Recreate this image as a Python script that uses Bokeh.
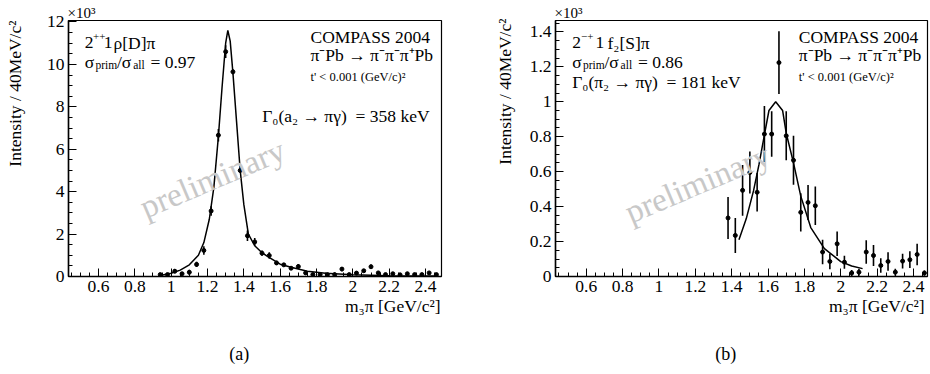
import math
from bokeh.plotting import figure
from bokeh.models import Label, FixedTicker, Range1d, Title, LinearAxis
from bokeh.layouts import row
from bokeh.embed import file_html
from bokeh.resources import INLINE

FONT = "'Liberation Serif', serif"

# ---------------- data ----------------
# panel (a): 2++1 rho[D]pi   (intensity in units of 10^3)
a_mass = [0.94, 0.98, 1.02, 1.06, 1.10, 1.14, 1.18, 1.22, 1.26, 1.30, 1.34, 1.38, 1.42,
          1.46, 1.50, 1.54, 1.58, 1.62, 1.66, 1.70, 1.74, 1.78, 1.82, 1.86, 1.90, 1.94,
          1.98, 2.02, 2.06, 2.10, 2.14, 2.18, 2.22, 2.26, 2.30, 2.34, 2.38, 2.42, 2.46]
a_int = [0.09, 0.09, 0.25, 0.13, 0.20, 0.57, 1.23, 3.09, 6.66, 10.6, 9.65, 5.0, 1.92,
         1.63, 1.10, 0.99, 0.64, 0.55, 0.39, 0.47, 0.17, 0.09, 0.09, 0.09, 0.09, 0.35,
         0.09, 0.16, 0.27, 0.46, 0.17, 0.09, 0.13, 0.08, 0.13, 0.09, 0.09, 0.17, 0.09]
a_err = [0.05, 0.05, 0.10, 0.06, 0.12, 0.12, 0.20, 0.22, 0.30, 0.30, 0.12, 0.10, 0.25,
         0.18, 0.12, 0.15, 0.10, 0.08, 0.08, 0.12, 0.05, 0.05, 0.05, 0.05, 0.05, 0.10,
         0.05, 0.06, 0.08, 0.10, 0.06, 0.05, 0.05, 0.05, 0.05, 0.05, 0.05, 0.06, 0.05]
a_fit_mass = [0.94, 1.00, 1.05, 1.10, 1.15, 1.18, 1.21, 1.235, 1.26, 1.28, 1.30, 1.312,
              1.325, 1.34, 1.36, 1.38, 1.40, 1.425, 1.46, 1.50, 1.53, 1.60, 1.66, 1.75,
              1.85, 2.00, 2.20, 2.47]
a_fit_int = [0.05, 0.15, 0.30, 0.55, 1.00, 1.60, 2.70, 4.20, 6.60, 8.90, 11.0, 11.6,
             11.1, 9.60, 7.30, 5.00, 3.40, 2.00, 1.45, 1.12, 0.95, 0.58, 0.44, 0.25,
             0.15, 0.08, 0.04, 0.02]

# panel (b): 2-+1 f2[S]pi
b_mass = [1.38, 1.42, 1.46, 1.50, 1.54, 1.58, 1.62, 1.66, 1.70, 1.74, 1.78, 1.82, 1.86,
          1.90, 1.94, 1.98, 2.02, 2.06, 2.10, 2.14, 2.18, 2.22, 2.26, 2.30, 2.34, 2.38,
          2.42, 2.46]
b_int = [0.335, 0.235, 0.493, 0.595, 0.482, 0.815, 0.815, 1.224, 0.805, 0.665, 0.367,
         0.424, 0.405, 0.140, 0.086, 0.187, 0.082, 0.020, 0.025, 0.140, 0.120, 0.063,
         0.086, 0.025, 0.088, 0.096, 0.126, 0.020]
b_err = [0.12, 0.10, 0.145, 0.12, 0.11, 0.16, 0.13, 0.18, 0.14, 0.14, 0.11, 0.10, 0.11,
         0.07, 0.045, 0.07, 0.037, 0.017, 0.02, 0.067, 0.06, 0.042, 0.053, 0.02, 0.042,
         0.048, 0.062, 0.015]
b_fit_mass = [1.44, 1.48, 1.52, 1.55, 1.58, 1.605, 1.642, 1.68, 1.70, 1.74, 1.78, 1.835,
              1.91, 2.00, 2.06, 2.12]
b_fit_int = [0.21, 0.33, 0.49, 0.64, 0.81, 0.95, 1.00, 0.95, 0.82, 0.65, 0.46, 0.28,
             0.16, 0.085, 0.06, 0.045]

x_ticks = [0.6, 0.8, 1.0, 1.2, 1.4, 1.6, 1.8, 2.0, 2.2, 2.4]
x_tick_labels = ["0.6", "0.8", "1", "1.2", "1.4", "1.6", "1.8", "2", "2.2", "2.4"]
a_y_ticks = [0, 2, 4, 6, 8, 10, 12]
a_y_tick_labels = ["0", "2", "4", "6", "8", "10", "12"]
b_y_ticks = [0.0, 0.2, 0.4, 0.6, 0.8, 1.0, 1.2, 1.4]
b_y_tick_labels = ["0", "0.2", "0.4", "0.6", "0.8", "1", "1.2", "1.4"]

X_TITLE = "m\u2083\u03c0 [GeV/c\u00b2]"
Y_TITLE = "Intensity / 40MeV/c\u00b2"

# ---------------- layout (canvas pixels) ----------------
TOP, BOTTOM = 20, 276
FS = 17.5     # main text size
FSS = 11.5    # sub/superscript size
NBSP = "\u00a0"


class Geo:
    def __init__(self, L, R, x0, x1, y0, y1):
        self.L, self.R, self.x0, self.x1, self.y0, self.y1 = L, R, x0, x1, y0, y1

    def x(self, px):
        return self.x0 + (px - self.L) / (self.R - self.L) * (self.x1 - self.x0)

    def y(self, py):
        return self.y0 + (BOTTOM - py) / (BOTTOM - TOP) * (self.y1 - self.y0)


def lab(p, g, px, py, text, size, align="left", baseline="alphabetic", angle=0.0,
        color="black"):
    p.add_layout(Label(x=g.x(px), y=g.y(py), text=text, text_font=FONT,
                       text_font_size=f"{size}px", text_align=align,
                       text_baseline=baseline, angle=angle, text_color=color))


def make_panel(g, border_left, border_right, yticks, ylabels, yminor, y_spacer,
               ytitle_offset, xtitle_offset, caption):
    p = figure(output_backend="svg", toolbar_location=None,
               frame_width=int(round(g.R - g.L)), frame_height=BOTTOM - TOP,
               min_border_left=border_left, min_border_right=border_right,
               min_border_top=TOP, min_border_bottom=373 - BOTTOM,
               x_range=Range1d(g.x0, g.x1), y_range=Range1d(g.y0, g.y1))
    p.background_fill_color = "white"
    p.border_fill_color = "white"
    p.outline_line_color = "black"
    p.outline_line_width = 1.2
    p.xgrid.grid_line_color = None
    p.ygrid.grid_line_color = None
    xminor = [round(0.45 + 0.05 * i, 2) for i in range(41)]
    p.xaxis.ticker = FixedTicker(ticks=x_ticks, minor_ticks=xminor)
    p.xaxis.major_label_overrides = {t: s for t, s in zip(x_ticks, x_tick_labels)}
    p.yaxis.ticker = FixedTicker(ticks=yticks, minor_ticks=yminor)
    p.yaxis.major_label_overrides = {t: s for t, s in zip(yticks, ylabels)}
    for ax in (p.xaxis[0], p.yaxis[0]):
        ax.axis_line_color = "black"
        ax.axis_line_width = 1.5
        ax.major_tick_in = 8
        ax.major_tick_out = 0
        ax.minor_tick_in = 4
        ax.minor_tick_out = 0
        ax.major_tick_line_color = "black"
        ax.minor_tick_line_color = "black"
        ax.major_label_text_font = FONT
        ax.major_label_text_font_size = f"{FS}px"
        ax.major_label_text_color = "black"
    p.xaxis.major_label_standoff = 4
    p.yaxis.major_label_standoff = 4
    # thin spacer label on the y axis so that the axis title sits further out
    p.yaxis.axis_label = NBSP
    p.yaxis.axis_label_text_font_size = "1px"
    p.yaxis.axis_label_standoff = y_spacer

    # y axis title, right-aligned to the top of the frame
    p.add_layout(Title(text=Y_TITLE, align="right", vertical_align="top", standoff=0,
                       offset=ytitle_offset, text_font=FONT, text_color="black",
                       text_font_size=f"{FS}px", text_font_style="normal"), "left")
    # x axis title, right-aligned to the right end of the frame
    p.add_layout(Title(text=X_TITLE, align="right", vertical_align="top", standoff=2,
                       offset=xtitle_offset, text_font=FONT, text_color="black",
                       text_font_size=f"{FS}px", text_font_style="normal"), "below")
    # caption (a)/(b) as the label of an empty axis below
    cap = LinearAxis(ticker=FixedTicker(ticks=[], minor_ticks=[]),
                     axis_line_color=None, major_tick_line_color=None,
                     minor_tick_line_color=None,
                     axis_label=caption + NBSP * 7, axis_label_standoff=25,
                     axis_label_text_font=FONT, axis_label_text_font_size="18px",
                     axis_label_text_font_style="normal", axis_label_text_color="black")
    p.add_layout(cap, "below")
    # x10^3 multiplier
    p.title.text = "\u00d710\u00b3"
    p.title.align = "left"
    p.title.offset = -1
    p.title.standoff = 0
    p.title.text_font = FONT
    p.title.text_font_size = "15px"
    p.title.text_font_style = "normal"
    p.title.text_color = "black"
    return p


def draw(p, g, mass, inten, err, fmass, fint, wm_x, wm_y):
    lab(p, g, wm_x, wm_y, "preliminary", 33, align="center", baseline="middle",
        angle=math.radians(23), color="#c8c8c8")
    p.line(fmass, fint, line_color="black", line_width=1.5)
    lo = [v - e for v, e in zip(inten, err)]
    hi = [v + e for v, e in zip(inten, err)]
    p.segment(x0=mass, y0=lo, x1=mass, y1=hi, line_color="black", line_width=1.6)
    p.scatter(mass, inten, size=4, color="black")


def exp_text(p, g, comp_x):
    lab(p, g, comp_x, 36, "COMPASS 2004", FS)
    lab(p, g, comp_x, 54, "\u03c0\u207bPb \u2192 \u03c0\u207b\u03c0\u207b\u03c0\u207aPb", FS)
    lab(p, g, comp_x, 76.5, "t' < 0.001 (GeV/c)\u00b2", 12.5)


def sigma_line(p, g, x0, base, value):
    lab(p, g, x0, base, "\u03c3", FS)
    lab(p, g, x0 + 10.7, base + 3, "prim", FSS)
    lab(p, g, x0 + 32.2, base, "/\u03c3", FS)
    lab(p, g, x0 + 48.4, base + 3, "all", FSS)
    lab(p, g, x0 + 65.7, base, "= " + value, FS)


# ---- panel (a)
ga = Geo(68, 441, 0.435, 2.488, 0.0, 12.07)
pa = make_panel(ga, 68, 29, a_y_ticks, a_y_tick_labels,
                [round(0.5 * i, 2) for i in range(25)], 13, 0, 1, "(a)")
draw(pa, ga, a_mass, a_int, a_err, a_fit_mass, a_fit_int, 212, 178)
exp_text(pa, ga, 310)
lab(pa, ga, 84.3, 42.3, "2", FS)
lab(pa, ga, 92.5, 35.5, "++", 11)
lab(pa, ga, 103.3, 42.3, "1", FS)
lab(pa, ga, 113, 42.3, "\u03c1[D]\u03c0", FS)
sigma_line(pa, ga, 84.3, 61.7, "0.97")
lab(pa, ga, 261.7, 115, "\u0393\u2080(a\u2082 \u2192 \u03c0\u03b3)" + NBSP + " = 358 keV", FS)

# ---- panel (b)
gb = Geo(555, 927, 0.431, 2.477, 0.0, 1.465)
pb = make_panel(gb, 85, 2, b_y_ticks, b_y_tick_labels,
                [round(0.05 * i, 2) for i in range(30)], 6, -2, 3, "(b)")
draw(pb, gb, b_mass, b_int, b_err, b_fit_mass, b_fit_int, 697, 183)
exp_text(pb, gb, 798.3)
lab(pb, gb, 571.7, 42.3, "2", FS)
lab(pb, gb, 580.5, 35.5, "\u2212+", 11)
lab(pb, gb, 595, 42.3, "1", FS)
lab(pb, gb, 607, 42.3, "f\u2082[S]\u03c0", FS)
sigma_line(pb, gb, 571.7, 61.7, "0.86")
lab(pb, gb, 571.7, 81.7, "\u0393\u2080(\u03c0\u2082 \u2192 \u03c0\u03b3)" + NBSP + " = 181 keV", FS)

layout = row(pa, pb)
open("out.html", "w").write(file_html(layout, INLINE))
